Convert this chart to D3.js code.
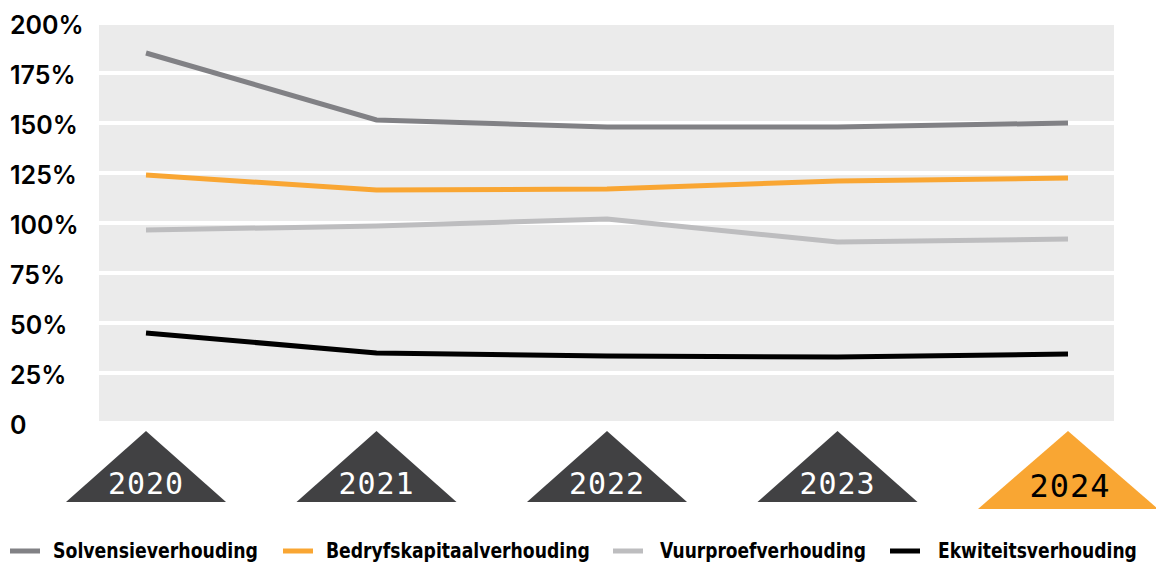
<!DOCTYPE html>
<meta charset="utf-8">
<script src="https://d3js.org/d3.v7.min.js"></script>
<style>
  body { margin: 0; background: #fff; }
</style>
<div id="chart"></div>
<script>
// data
var years = ["2020", "2021", "2022", "2023", "2024"];
var solvensie = [185, 151.5, 148, 148, 150];
var bedryfskapitaal = [124, 116.5, 117, 121, 122.5];
var vuurproef = [96.5, 98.5, 102, 90.5, 92];
var ekwiteit = [45, 35, 33.5, 33, 34.5];
var yTicks = [0, 25, 50, 75, 100, 125, 150, 175, 200];

var series = [
  { name: "Solvensieverhouding", values: solvensie, color: "#818185" },
  { name: "Bedryfskapitaalverhouding", values: bedryfskapitaal, color: "#f9a633" },
  { name: "Vuurproefverhouding", values: vuurproef, color: "#bdbdbf" },
  { name: "Ekwiteitsverhouding", values: ekwiteit, color: "#000000" }
];

var W = 1156, H = 564;
var svg = d3.select("#chart").append("svg")
  .attr("width", W)
  .attr("height", H);

var plotLeft = 99, plotRight = 1114;

var x = d3.scalePoint()
  .domain(years)
  .range([146, 1068]);

var y = d3.scaleLinear()
  .domain([0, 200])
  .range([423, 23]);

// grey background with white grid bands
svg.append("rect")
  .attr("x", plotLeft)
  .attr("y", y(200))
  .attr("width", plotRight - plotLeft)
  .attr("height", y(0) - y(200))
  .attr("fill", "#ebebeb");

svg.selectAll(".grid")
  .data(yTicks)
  .enter().append("line")
    .attr("x1", plotLeft)
    .attr("x2", plotRight)
    .attr("y1", function(d) { return y(d); })
    .attr("y2", function(d) { return y(d); })
    .attr("stroke", "#fff")
    .attr("stroke-width", 4);

// y labels
svg.selectAll(".ylab")
  .data(yTicks)
  .enter().append("text")
    .attr("x", 10)
    .attr("y", function(d) { return y(d) + 2; })
    .attr("dominant-baseline", "central")
    .style("font-family", "Inter, sans-serif")
    .style("font-weight", 600)
    .style("font-size", "25px")
    .style("fill", "#000")
    .text(function(d) { return d === 0 ? "0" : d + "%"; });

// lines
var line = d3.line()
  .x(function(d, i) { return x(years[i]); })
  .y(function(d) { return y(d); });

svg.selectAll(".series")
  .data(series)
  .enter().append("path")
    .attr("d", function(d) { return line(d.values); })
    .attr("fill", "none")
    .attr("stroke", function(d) { return d.color; })
    .attr("stroke-width", 5);

// year triangles
var tri = svg.selectAll(".tri")
  .data(years)
  .enter().append("g")
    .attr("transform", function(d) { return "translate(" + x(d) + ",0)"; });

tri.append("path")
  .attr("d", function(d, i) {
    var last = i === years.length - 1;
    var hw = last ? 90 : 80, base = last ? 509 : 502;
    return "M0,431L" + hw + "," + base + "L" + (-hw) + "," + base + "Z";
  })
  .attr("fill", function(d, i) { return i === years.length - 1 ? "#f9a633" : "#414143"; });

tri.append("text")
  .attr("x", function(d, i) { return i === years.length - 1 ? 2 : 0; })
  .attr("y", function(d, i) { return i === years.length - 1 ? 486 : 483; })
  .attr("text-anchor", "middle")
  .attr("dominant-baseline", "central")
  .style("font-family", "'DejaVu Sans Mono', monospace")
  .style("font-size", function(d, i) { return i === years.length - 1 ? "32px" : "30px"; })
  .style("letter-spacing", "1px")
  .style("fill", function(d, i) { return i === years.length - 1 ? "#000" : "#fff"; })
  .text(function(d) { return d; });

// legend (condensed look by squeezing text horizontally)
var legendX = [10, 283, 613, 890];
var legendTextX = [43, 43, 47, 48];
var legendW = [205, 264, 206, 199];
var legend = svg.selectAll(".legend")
  .data(series)
  .enter().append("g")
    .attr("transform", function(d, i) { return "translate(" + legendX[i] + ",551)"; });

legend.append("line")
  .attr("x1", 0)
  .attr("x2", 30)
  .attr("stroke", function(d) { return d.color; })
  .attr("stroke-width", 5);

legend.append("text")
  .attr("dominant-baseline", "central")
  .style("font-family", "'DejaVu Sans', sans-serif")
  .style("font-weight", "bold")
  .style("font-size", "21px")
  .style("fill", "#000")
  .text(function(d) { return d.name; })
  .attr("transform", function(d, i) {
    var k = legendW[i] / this.getComputedTextLength();
    return "translate(" + legendTextX[i] + ",0) scale(" + k + ",1)";
  });
</script>
